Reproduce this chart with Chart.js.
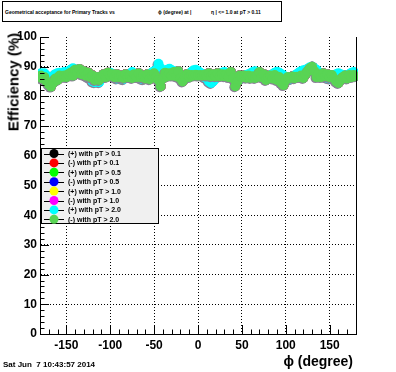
<!DOCTYPE html>
<html>
<head>
<meta charset="utf-8">
<script src="https://cdn.jsdelivr.net/npm/chart.js@4/dist/chart.umd.min.js"></script>
<style>
  body { margin: 0; background: #fff; }
  #wrap { position: relative; width: 396px; height: 372px; font-family: "Liberation Sans", Arial, sans-serif; }
  #c { position: absolute; left: 0; top: 0; }
  #titlebox { position: absolute; left: 2px; top: 1px; width: 278px; height: 19px; border: 1px solid #000; background: #fff; }
  #titlebox span { position: absolute; top: 7px; font-weight: bold; font-size: 5px; white-space: pre; line-height: 6px; }
  #date { position: absolute; left: 3px; top: 360px; font-weight: bold; font-size: 8px; white-space: pre; }
  #xtitle { position: absolute; right: 43px; top: 353px; font-weight: bold; font-size: 14px; }
  #ytitle { position: absolute; left: 13px; top: 82px; font-weight: bold; font-size: 15px; white-space: pre;
            transform: translate(-50%, -50%) rotate(-90deg); }
</style>
</head>
<body>
<div id="wrap">
  <canvas id="c" width="396" height="372"></canvas>
  <div id="titlebox">
    <span style="left:2px">Geometrical acceptance for Primary Tracks vs</span>
    <span style="left:155px">ϕ (degree) at |</span>
    <span style="left:208px">η | &lt;= 1.0 at pT &gt; 0.11</span>
  </div>
  <div id="date">Sat Jun  7 10:43:57 2014</div>
  <div id="xtitle">ϕ (degree)</div>
  <div id="ytitle">Efficiency (%)</div>
</div>
<script>
// phi bins (degree)
const phi = [-179, -177.5, -175, -172.5, -170, -167.5, -165, -162.5, -160, -157.5, -155, -152.5,
  -150, -147.5, -145, -142.5, -140, -137.5, -135, -132.5, -130, -127.5, -125, -122.5,
  -120, -117.5, -115, -112.5, -110, -107.5, -105, -102.5, -100, -97.5, -95, -92.5,
  -90, -87.5, -85, -82.5, -80, -77.5, -75, -72.5, -70, -67.5, -65, -62.5,
  -60, -57.5, -55, -52.5, -50, -47.5, -45, -42.5, -40, -37.5, -35, -32.5,
  -30, -27.5, -25, -22.5, -20, -17.5, -15, -12.5, -10, -7.5, -5, -2.5,
  0, 2.5, 5, 7.5, 10, 12.5, 15, 17.5, 20, 22.5, 25, 27.5,
  30, 32.5, 35, 37.5, 40, 42.5, 45, 47.5, 50, 52.5, 55, 57.5,
  60, 62.5, 65, 67.5, 70, 72.5, 75, 77.5, 80, 82.5, 85, 87.5,
  90, 92.5, 95, 97.5, 100, 102.5, 105, 107.5, 110, 112.5, 115, 117.5,
  120, 122.5, 125, 127.5, 130, 132.5, 135, 137.5, 140, 142.5, 145, 147.5,
  150, 152.5, 155, 157.5, 160, 162.5, 165, 167.5, 170, 172.5, 175, 177.5, 179];

// (-) with pT > 2.0 (top layer, light green)
const effNeg20 = [87.0, 86.0, 86.5, 85.0, 84.0, 83.3, 84.5, 86.0, 85.5, 87.0, 86.5, 87.0,
  86.5, 87.5, 88.0, 87.0, 89.0, 88.0, 89.2, 87.5, 88.5, 87.0, 88.0, 86.5,
  87.0, 85.5, 86.5, 85.5, 86.5, 87.5, 86.5, 88.0, 87.0, 87.5, 86.5, 87.5,
  86.5, 87.0, 86.2, 87.5, 86.5, 87.0, 86.2, 87.5, 86.5, 87.8, 86.5, 87.0,
  86.0, 87.5, 85.8, 87.0, 87.8, 86.5, 85.5, 83.4, 86.0, 88.0, 86.8, 87.8,
  87.0, 88.2, 86.8, 88.5, 86.0, 85.0, 86.5, 87.5, 86.5, 87.2, 87.0, 87.3,
  87.0, 87.2, 87.0, 87.3, 87.0, 87.8, 86.8, 87.5, 86.8, 87.8, 86.8, 87.5,
  86.8, 87.5, 86.5, 88.2, 86.0, 83.4, 85.0, 87.0, 86.5, 87.0, 86.3, 87.0,
  86.2, 86.8, 86.2, 87.0, 88.2, 86.5, 87.5, 85.5, 86.5, 87.0, 86.0, 87.2,
  85.5, 86.5, 84.5, 83.8, 85.5, 86.5, 86.2, 86.7, 86.1, 86.6, 86.5, 87.0,
  86.2, 87.5, 88.5, 89.5, 90.0, 88.5, 86.5, 87.5, 86.5, 87.8, 86.8, 87.5,
  86.5, 87.2, 86.0, 85.0, 84.5, 85.5, 86.5, 87.0, 86.0, 87.2, 86.5, 87.2, 86.8];

// (+) with pT > 2.0 (cyan)
const effPos20 = [87.8, 87.5, 87.8, 87.0, 86.5, 86.0, 86.5, 87.5, 87.8, 88.0, 87.5, 88.2,
  88.0, 88.5, 89.0, 89.5, 88.5, 89.0, 88.0, 88.5, 87.5, 87.0, 86.5, 86.0,
  85.0, 84.8, 85.5, 84.8, 86.0, 86.5, 87.0, 87.5, 88.0, 87.5, 86.5, 86.0,
  86.5, 86.0, 85.8, 86.5, 87.0, 87.5, 88.2, 87.5, 87.0, 86.5, 86.0, 85.8,
  86.2, 86.8, 87.5, 88.0, 88.5, 89.0, 91.0, 89.5, 88.0, 88.5, 89.0, 89.3,
  88.8, 88.5, 88.0, 87.5, 87.0, 86.5, 86.0, 86.5, 87.5, 88.2, 88.8, 89.0,
  88.5, 88.0, 87.5, 86.5, 86.0, 85.0, 84.5, 85.2, 86.0, 87.0, 87.5, 88.0,
  88.2, 88.0, 87.5, 87.0, 86.5, 86.0, 85.5, 85.8, 86.2, 86.8, 87.2, 87.5,
  87.8, 88.2, 88.5, 88.0, 87.5, 87.0, 86.5, 86.0, 86.2, 86.8, 87.5, 88.0,
  88.3, 88.0, 87.5, 87.0, 86.5, 86.0, 85.8, 86.2, 86.8, 87.5, 88.0, 88.5,
  88.8, 89.0, 89.3, 89.8, 90.0, 89.5, 89.0, 88.0, 87.5, 87.0, 86.5, 86.2,
  86.0, 86.5, 87.0, 87.5, 87.8, 87.5, 87.0, 86.5, 87.0, 87.5, 88.0, 88.2, 87.8];

// lower-pT series sit underneath the two pT > 2.0 curves
const effOther = effNeg20;

const seriesLabels = ['(+) with pT > 0.1', '(-) with pT > 0.1', '(+) with pT > 0.5', '(-) with pT > 0.5',
  '(+) with pT > 1.0', '(-) with pT > 1.0', '(+) with pT > 2.0', '(-) with pT > 2.0'];
const seriesValues = [effOther, effOther, effOther, effOther, effOther, effOther, effPos20, effNeg20];
const seriesColors = ['#000000', '#ff0000', '#00ff00', '#0000ff', '#ffff00', '#ff00ff', '#00ffff', '#59d454'];

const xTicks = [-150, -100, -50, 0, 50, 100, 150];
const yTicks = [0, 10, 20, 30, 40, 50, 60, 70, 80, 90, 100];

const datasets = seriesLabels.map(function (lab, i) {
  return {
    label: lab,
    data: phi.map(function (p, k) { return {x: p, y: seriesValues[i][k]}; }),
    backgroundColor: seriesColors[i],
    borderColor: seriesColors[i],
    pointRadius: 5,
    pointBorderWidth: 0,
    showLine: false,
    clip: 2,
    order: 7 - i
  };
});

// gray edge under the top markers
const edgePlugin = {
  id: 'edge',
  beforeDatasetDraw(chart, args) {
    if (args.index < 6) return;
    const ctx = chart.ctx;
    const ca = chart.chartArea;
    ctx.save();
    ctx.beginPath();
    ctx.rect(ca.left - 2, ca.top, ca.right - ca.left + 4, ca.bottom - ca.top);
    ctx.clip();
    ctx.fillStyle = '#8a8096';
    args.meta.data.forEach(function (pt) {
      ctx.beginPath();
      ctx.arc(pt.x - 1, pt.y + 1, 5, 0, Math.PI * 2);
      ctx.fill();
    });
    ctx.restore();
  }
};

const framePlugin = {
  id: 'frame',
  afterDraw(chart) {
    const ctx = chart.ctx;
    const ca = chart.chartArea;
    const xs = chart.scales.x, ys = chart.scales.y;
    ctx.save();
    ctx.strokeStyle = '#000';
    ctx.lineWidth = 1;
    ctx.beginPath();
    for (let v = -170; v <= 170; v += 10) {
      const px = Math.round(xs.getPixelForValue(v)) + 0.5;
      const len = v % 50 === 0 ? 9 : 4.5;
      ctx.moveTo(px, ca.bottom);
      ctx.lineTo(px, ca.bottom - len);
    }
    for (let v = 0; v <= 100; v += 2) {
      const py = Math.round(ys.getPixelForValue(v)) + 0.5;
      const len = v % 10 === 0 ? 9 : 4.5;
      ctx.moveTo(ca.left, py);
      ctx.lineTo(ca.left + len, py);
    }
    ctx.moveTo(Math.round(ca.right) + 0.5, ca.top);
    ctx.lineTo(Math.round(ca.right) + 0.5, ca.bottom);
    ctx.stroke();

    // legend box
    const bx = 41, by = 148, bw = 117, bh = 75;
    ctx.fillStyle = '#f0f0f0';
    ctx.fillRect(bx, by, bw, bh);
    ctx.strokeRect(bx + 0.5, by + 0.5, bw, bh);
    ctx.font = 'bold 7px "Liberation Sans", Arial, sans-serif';
    ctx.textBaseline = 'middle';
    chart.data.datasets.forEach(function (ds, i) {
      const y = by + 5.5 + i * 9.4;
      ctx.beginPath();
      ctx.moveTo(44, Math.round(y) + 0.5);
      ctx.lineTo(64, Math.round(y) + 0.5);
      ctx.stroke();
      ctx.fillStyle = ds.backgroundColor;
      ctx.beginPath();
      ctx.arc(54, y, 4.5, 0, Math.PI * 2);
      ctx.fill();
      ctx.fillStyle = '#000';
      ctx.fillText(ds.label, 68, y + 0.5);
    });
    ctx.restore();
  }
};

const tickFont = {family: '"Liberation Sans", Arial, sans-serif', weight: 'bold', size: 12};

const config = {
  type: 'scatter',
  data: {datasets: datasets},
  options: {
    responsive: false,
    animation: false,
    layout: {padding: {left: 0, right: 40, top: 37, bottom: 0}},
    plugins: {legend: {display: false}, tooltip: {enabled: false}},
    scales: {
      x: {
        type: 'linear', min: -180, max: 180,
        afterBuildTicks: function (s) { s.ticks = xTicks.map(function (v) { return {value: v}; }); },
        afterFit: function (s) { s.height = 38; },
        grid: {color: '#000', lineWidth: 1, drawTicks: false},
        border: {display: true, color: '#000', width: 1, dash: [1, 2]},
        ticks: {font: tickFont, color: '#000', padding: 4, maxRotation: 0}
      },
      y: {
        type: 'linear', min: 0, max: 100,
        afterBuildTicks: function (s) { s.ticks = yTicks.map(function (v) { return {value: v}; }); },
        afterFit: function (s) { s.width = 40; },
        grid: {
          color: function (c) { return (c.tick && (c.tick.value === 0 || c.tick.value === 100)) ? 'rgba(0,0,0,0)' : '#000'; },
          lineWidth: 1, drawTicks: false
        },
        border: {display: true, color: '#000', width: 1, dash: [1, 2]},
        ticks: {font: tickFont, color: '#000', padding: 3}
      }
    }
  },
  plugins: [edgePlugin, framePlugin]
};

var ctx = document.getElementById('c');
var myChart = new Chart(ctx, config);
</script>
</body>
</html>
